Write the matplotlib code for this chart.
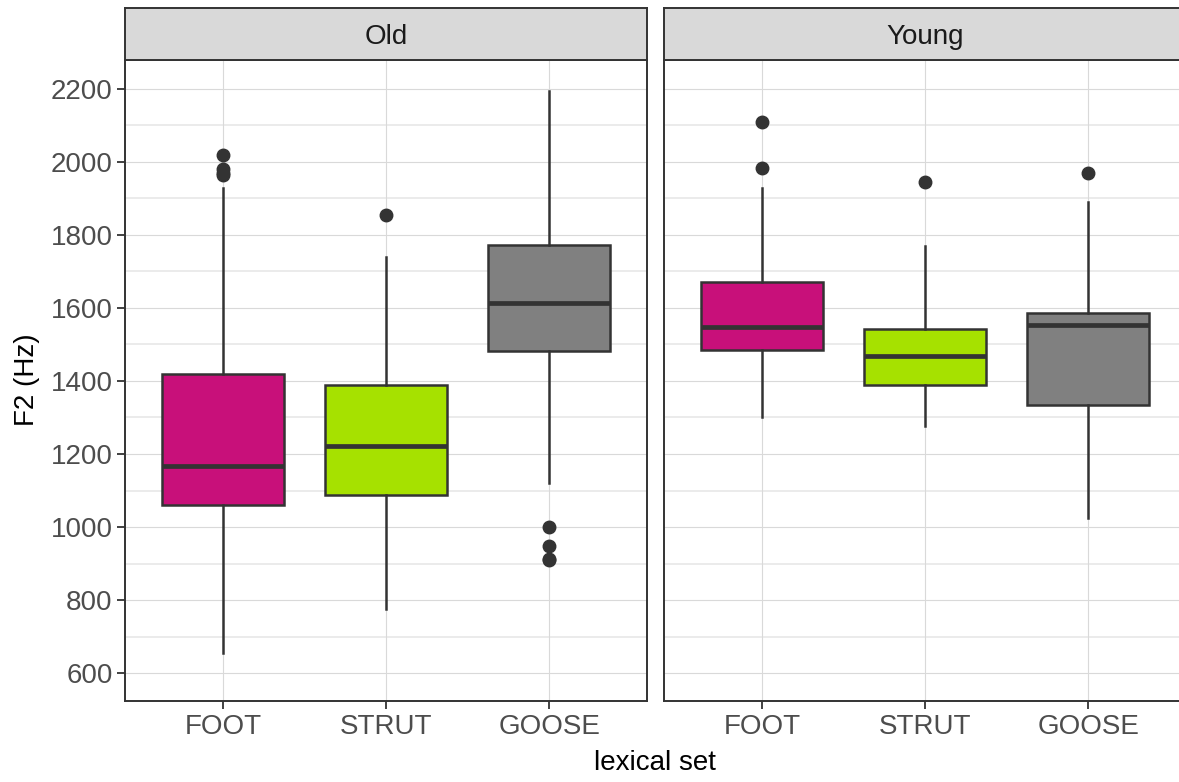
import matplotlib
matplotlib.use("Agg")
import matplotlib.pyplot as plt
import numpy as np

plt.rcParams['font.family'] = ['Liberation Sans', 'DejaVu Sans']

# data (Hz)
groups = ['Old', 'Young']
lexical_sets = ['FOOT', 'STRUT', 'GOOSE']
box_colors = ['#C8107A', '#A6E100', '#808080']

old_q1 = [1059, 1089, 1481]
old_med = [1168, 1223, 1612]
old_q3 = [1418, 1388, 1773]
old_wlo = [654, 776, 1121]
old_whi = [1927, 1739, 2194]
old_fliers = [[2018, 1979, 1969, 1963], [1854], [1001, 947, 913, 909]]

young_q1 = [1485, 1388, 1335]
young_med = [1547, 1469, 1554]
young_q3 = [1671, 1541, 1587]
young_wlo = [1301, 1276, 1024]
young_whi = [1927, 1769, 1890]
young_fliers = [[2109, 1982], [1945], [1968]]

yticks = [600, 800, 1000, 1200, 1400, 1600, 1800, 2000, 2200]


def make_stats(q1, med, q3, wlo, whi, fl):
    stats = []
    for i in range(len(lexical_sets)):
        stats.append(dict(q1=q1[i], med=med[i], q3=q3[i], whislo=wlo[i],
                          whishi=whi[i], fliers=fl[i], label=lexical_sets[i]))
    return stats


panel_stats = [make_stats(old_q1, old_med, old_q3, old_wlo, old_whi, old_fliers),
               make_stats(young_q1, young_med, young_q3, young_wlo, young_whi, young_fliers)]

W, H = 1179, 782
fig = plt.figure(figsize=(W / 100, H / 100), dpi=100)

# right panel runs past the image edge, as in the reference
panels = [(125, 647), (664, 1186)]
top, bottom, strip_top = 60, 701, 8
dark = '#333333'
fs = 20

for k in range(2):
    x0, x1 = panels[k]
    ax = fig.add_axes([x0 / W, 1 - bottom / H, (x1 - x0) / W, (bottom - top) / H])
    ax.set_ylim(524, 2278)
    ax.set_xlim(0.4, 3.6)
    # grid
    for y in np.arange(700, 2200, 200):
        ax.axhline(y, color='#EBEBEB', lw=1.4, zorder=0)
    for y in yticks:
        ax.axhline(y, color='#D9D9D9', lw=0.8, zorder=0)
    for x in [1, 2, 3]:
        ax.axvline(x, color='#D9D9D9', lw=0.8, zorder=0)

    bp = ax.bxp(panel_stats[k], positions=[1, 2, 3], widths=0.75, patch_artist=True,
                showcaps=False,
                boxprops=dict(edgecolor=dark, linewidth=1.8),
                whiskerprops=dict(color=dark, linewidth=1.8),
                medianprops=dict(color=dark, linewidth=3.4, solid_capstyle='butt'),
                flierprops=dict(marker='o', markerfacecolor=dark, markeredgecolor=dark,
                                markersize=9, linestyle='none'))
    for patch, c in zip(bp['boxes'], box_colors):
        patch.set_facecolor(c)
        patch.set_zorder(2)

    for s in ax.spines.values():
        s.set_color(dark)
        s.set_linewidth(1.4)
    ax.set_xticks([1, 2, 3])
    ax.set_xticklabels(lexical_sets)
    ax.set_yticks(yticks)
    if k == 0:
        ax.set_yticklabels([str(v) for v in yticks])
        ax.tick_params(axis='y', length=6, width=1.3, color=dark, labelsize=fs,
                       labelcolor='#4D4D4D', pad=3)
    else:
        ax.tick_params(axis='y', length=0, labelleft=False)
    ax.tick_params(axis='x', length=6, width=1.3, color=dark, labelsize=fs,
                   labelcolor='#4D4D4D', pad=3)

    # strip
    sax = fig.add_axes([x0 / W, 1 - top / H, (x1 - x0) / W, (top - strip_top) / H])
    sax.set_facecolor('#D9D9D9')
    sax.set_xticks([])
    sax.set_yticks([])
    for s in sax.spines.values():
        s.set_color(dark)
        s.set_linewidth(1.4)
    sax.text((x0 + x1) / 2 / W, 1 - 44 / H, groups[k], ha='center', va='baseline',
             fontsize=fs, color='#1A1A1A', transform=fig.transFigure)

fig.text(27 / W, 1 - 380 / H, 'F2 (Hz)', rotation=90, ha='center', va='center',
         fontsize=fs, color='black')
fig.text(655 / W, 1 - 763 / H, 'lexical set', ha='center', va='center',
         fontsize=fs, color='black')

fig.savefig('out.png', dpi=100)
